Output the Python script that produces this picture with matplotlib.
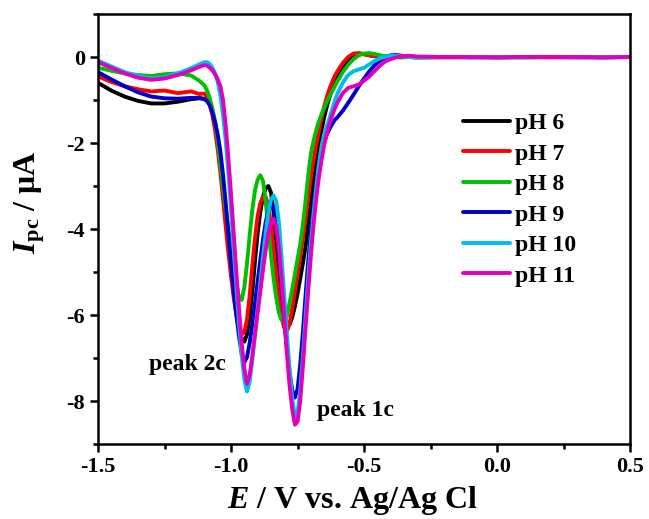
import numpy as np
import matplotlib
matplotlib.use("Agg")
import matplotlib.pyplot as plt
from matplotlib.ticker import MultipleLocator, FormatStrFormatter

plt.rcParams['font.family'] = 'Liberation Serif'
plt.rcParams['font.weight'] = 'bold'
plt.rcParams['axes.unicode_minus'] = False
plt.rcParams['mathtext.fontset'] = 'custom'
plt.rcParams['mathtext.rm'] = 'Liberation Serif:bold'
plt.rcParams['mathtext.it'] = 'Liberation Serif:bold:italic'
plt.rcParams['mathtext.bf'] = 'Liberation Serif:bold'

# potential grid (V vs Ag/AgCl)
E = [-1.50, -1.45, -1.40, -1.35, -1.30, -1.25, -1.20, -1.15, -1.12,
     -1.10, -1.09, -1.08, -1.07, -1.06, -1.05, -1.04, -1.03, -1.02, -1.01,
     -1.00, -0.99, -0.98, -0.97, -0.96, -0.95, -0.94, -0.93, -0.92, -0.91,
     -0.90, -0.89, -0.88, -0.87, -0.86, -0.85, -0.84, -0.83, -0.82, -0.81,
     -0.80, -0.79, -0.78, -0.77, -0.76, -0.75, -0.74, -0.73, -0.72, -0.71,
     -0.70, -0.69, -0.68, -0.67, -0.66, -0.65, -0.64, -0.63, -0.62, -0.61,
     -0.60, -0.58, -0.56, -0.54, -0.52, -0.50, -0.48, -0.46, -0.44, -0.42,
     -0.40, -0.38, -0.36, -0.33, -0.30, -0.20, -0.10, 0.00, 0.10, 0.20, 0.30, 0.40, 0.50]

I_ph6 = [-0.60, -0.78, -0.92, -1.02, -1.08, -1.08, -1.04, -0.98, -0.96,
         -0.97, -1.00, -1.08, -1.25, -1.55, -1.95, -2.45, -3.05, -3.70, -4.35,
         -4.95, -5.50, -5.95, -6.30, -6.55, -6.62, -6.45, -6.05, -5.45, -4.75,
         -4.10, -3.60, -3.25, -3.05, -3.00, -3.15, -3.60, -4.30, -5.00, -5.60,
         -6.00, -6.20, -6.22, -6.05, -5.80, -5.50, -5.15, -4.80, -4.40, -3.90,
         -3.40, -2.90, -2.45, -2.05, -1.70, -1.40, -1.15, -0.93, -0.75, -0.58,
         -0.45, -0.25, -0.09, 0.02, 0.08, 0.07, 0.04, 0.02, 0.01, 0.00,
         0.00, 0.00, 0.00, 0.00, -0.01, 0.00, 0.00, -0.01, 0.00, 0.00, 0.00, -0.01, 0.00]

I_ph7 = [-0.45, -0.58, -0.68, -0.75, -0.80, -0.78, -0.84, -0.80, -0.86,
         -0.85, -0.92, -1.12, -1.35, -1.70, -2.15, -2.70, -3.30, -3.95, -4.55,
         -5.10, -5.60, -6.00, -6.30, -6.45, -6.40, -6.10, -5.55, -4.85, -4.20,
         -3.70, -3.40, -3.25, -3.25, -3.45, -3.90, -4.50, -5.10, -5.65, -6.05,
         -6.30, -6.38, -6.20, -5.85, -5.45, -5.05, -4.65, -4.20, -3.75, -3.25,
         -2.80, -2.40, -2.05, -1.72, -1.42, -1.15, -0.93, -0.74, -0.58, -0.44,
         -0.33, -0.14, 0.00, 0.08, 0.09, 0.06, 0.04, 0.02, 0.01, 0.00,
         0.00, 0.00, -0.01, 0.00, 0.00, -0.01, 0.00, 0.00, 0.00, -0.01, 0.00, 0.00, 0.00]

I_ph8 = [-0.25, -0.32, -0.38, -0.42, -0.44, -0.40, -0.38, -0.43, -0.55,
         -0.66, -0.78, -0.96, -1.20, -1.50, -1.95, -2.50, -3.05, -3.55, -4.00,
         -4.40, -4.85, -5.25, -5.60, -5.65, -5.35, -4.80, -4.15, -3.55, -3.10,
         -2.85, -2.75, -2.88, -3.35, -3.95, -4.60, -5.15, -5.60, -5.95, -6.12,
         -6.15, -6.02, -5.72, -5.40, -5.05, -4.70, -4.35, -3.90, -3.35, -2.75,
         -2.25, -1.95, -1.70, -1.50, -1.33, -1.18, -1.04, -0.92, -0.80, -0.68,
         -0.56, -0.35, -0.18, -0.05, 0.04, 0.08, 0.09, 0.07, 0.04, 0.02,
         0.01, 0.00, 0.00, 0.00, -0.01, 0.00, 0.00, 0.00, -0.01, 0.00, 0.00, 0.00, 0.00]

I_ph9 = [-0.35, -0.52, -0.68, -0.82, -0.92, -0.96, -0.97, -0.95, -0.95,
         -0.98, -1.03, -1.12, -1.30, -1.52, -1.80, -2.20, -2.75, -3.40, -4.10,
         -4.80, -5.45, -6.00, -6.50, -6.90, -7.10, -6.98, -6.65, -6.20, -5.72,
         -5.22, -4.72, -4.25, -3.85, -3.57, -3.44, -3.50, -3.85, -4.50, -5.30,
         -6.10, -6.80, -7.35, -7.75, -7.92, -7.72, -7.15, -6.40, -5.55, -4.75,
         -4.05, -3.45, -2.95, -2.50, -2.20, -1.98, -1.80, -1.67, -1.56, -1.46,
         -1.40, -1.25, -1.07, -0.88, -0.68, -0.50, -0.33, -0.19, -0.08, 0.00,
         0.04, 0.05, 0.03, 0.01, 0.00, 0.00, -0.01, 0.00, 0.00, 0.00, -0.01, 0.00, 0.00]

I_ph10 = [-0.08, -0.22, -0.35, -0.44, -0.50, -0.47, -0.38, -0.26, -0.17,
          -0.12, -0.12, -0.16, -0.25, -0.38, -0.58, -0.90, -1.35, -1.95, -2.70,
          -3.55, -4.45, -5.35, -6.20, -6.95, -7.50, -7.78, -7.55, -7.05, -6.45,
          -5.85, -5.25, -4.65, -4.10, -3.62, -3.32, -3.22, -3.35, -3.85, -4.65,
          -5.55, -6.45, -7.25, -7.95, -8.35, -8.28, -7.75, -6.95, -6.05, -5.15,
          -4.35, -3.65, -3.05, -2.50, -2.08, -1.80, -1.60, -1.42, -1.22, -1.02,
          -0.85, -0.60, -0.42, -0.33, -0.29, -0.25, -0.17, -0.09, -0.03, 0.01,
          0.03, 0.03, 0.02, 0.00, -0.01, 0.00, 0.00, 0.00, -0.01, 0.00, 0.00, 0.00, 0.00]

I_ph11 = [-0.12, -0.25, -0.38, -0.48, -0.53, -0.50, -0.42, -0.31, -0.23,
          -0.19, -0.20, -0.25, -0.31, -0.40, -0.52, -0.68, -1.00, -1.60, -2.35,
          -3.20, -4.10, -5.00, -5.85, -6.65, -7.25, -7.60, -7.40, -6.95, -6.45,
          -5.95, -5.45, -4.95, -4.50, -4.10, -3.85, -3.76, -3.95, -4.45, -5.20,
          -6.05, -6.90, -7.65, -8.20, -8.55, -8.48, -8.00, -7.20, -6.30, -5.45,
          -4.62, -3.90, -3.30, -2.80, -2.40, -2.05, -1.78, -1.55, -1.36, -1.20,
          -1.06, -0.84, -0.72, -0.68, -0.64, -0.55, -0.45, -0.32, -0.20, -0.10,
          -0.05, -0.01, 0.02, 0.03, 0.01, 0.00, 0.00, -0.01, 0.00, 0.00, 0.00, -0.01, 0.00]

labels = ['pH 6', 'pH 7', 'pH 8', 'pH 9', 'pH 10', 'pH 11']
colors = ['#000000', '#FF0000', '#00C000', '#0000C8', '#00BEEB', '#E000C0']
series = [I_ph6, I_ph7, I_ph8, I_ph9, I_ph10, I_ph11]

fig = plt.figure(figsize=(6.49, 5.19), dpi=100)
ax = fig.add_axes([0.151, 0.1445, 0.820, 0.8285])

for I, c, lab in zip(series, colors, labels):
    ax.plot(E, I, color=c, lw=2.8, label=lab, solid_capstyle='round')

ax.set_xlim(-1.5, 0.5)
ax.set_ylim(-9, 1)
ax.xaxis.set_major_locator(MultipleLocator(0.5))
ax.xaxis.set_minor_locator(MultipleLocator(0.25))
ax.yaxis.set_major_locator(MultipleLocator(2))
ax.yaxis.set_minor_locator(MultipleLocator(1))
ax.xaxis.set_major_formatter(FormatStrFormatter('%.1f'))
ax.yaxis.set_major_formatter(FormatStrFormatter('%d'))

for s in ax.spines.values():
    s.set_linewidth(1.8)
ax.tick_params(which='major', direction='out', length=6, width=1.8, labelsize=16)
ax.tick_params(which='minor', direction='out', length=3.5, width=1.8)

ax.set_xlabel(r'$E$ / V vs. Ag/Ag Cl', fontsize=23, fontweight='bold')
ax.set_ylabel(r'$I_{\rm pc}$ / μA', fontsize=23, fontweight='bold')
ax.xaxis.set_label_coords(0.478, -0.094)
ax.yaxis.set_label_coords(-0.096, 0.563)

ax.text(-1.165, -7.16, 'peak 2c', fontsize=17, fontweight='bold', ha='center', va='center')
ax.text(-0.534, -8.23, 'peak 1c', fontsize=17, fontweight='bold', ha='center', va='center')

leg = ax.legend(loc='upper left', bbox_to_anchor=(0.686, 0.771), frameon=False,
                fontsize=17, handlelength=2.0, handletextpad=0.2, labelspacing=0.38,
                borderpad=0, borderaxespad=0)

plt.savefig('out.png', dpi=100)
